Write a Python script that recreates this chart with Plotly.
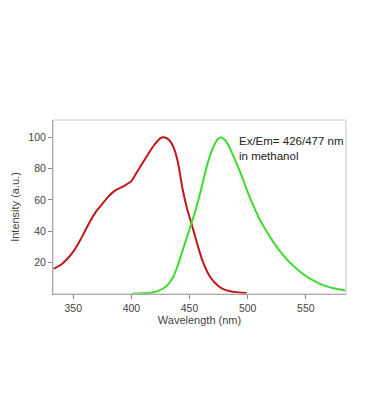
import plotly.graph_objects as go

ex_wl = [333, 340, 345, 350, 355, 360, 365, 370, 375, 380, 385, 390, 395, 400, 405, 410, 415, 420, 425, 428, 432, 436, 440, 444, 448, 452, 456, 461, 468, 475, 480, 485, 490, 495, 499]
ex_int = [16, 19, 22.5, 27, 33, 40, 47, 53, 57.5, 62, 65.5, 67.5, 69.5, 72, 78, 84, 90, 95.5, 99.5, 100, 98.5, 94, 84, 67, 54, 44, 33.5, 21.5, 10.5, 5, 2.8, 1.8, 1.2, 0.8, 0.6]

em_wl = [401, 410, 418, 423, 428, 432, 436, 440, 445, 450, 455, 460, 465, 470, 474, 477, 480, 483, 490, 495, 500, 505, 510, 515, 520, 527, 535, 543, 550, 558, 565, 575, 584]
em_int = [0.3, 0.5, 1.0, 2.0, 3.8, 6.5, 11, 18.5, 30, 41.5, 53, 67, 82, 93, 98.5, 100, 98.5, 95.5, 84, 75, 65, 56, 48, 41.5, 35.5, 28, 21, 15.5, 11.5, 8, 5.5, 3.5, 2.2]

x_ticks = [350, 400, 450, 500, 550]
y_ticks = [20, 40, 60, 80, 100]

fig = go.Figure()
fig.add_trace(go.Scatter(x=ex_wl, y=ex_int, mode="lines",
                         line=dict(color="#c0171c", width=2, shape="spline", smoothing=0.6),
                         showlegend=False))
fig.add_trace(go.Scatter(x=em_wl, y=em_int, mode="lines",
                         line=dict(color="#3cdc2c", width=2, shape="spline", smoothing=0.6),
                         showlegend=False))

fig.add_annotation(x=490.7, y=93, xref="x", yref="y", xanchor="left", yanchor="middle",
                   text="Ex/Em= 426/477 nm<br>in methanol", showarrow=False, align="left",
                   font=dict(family="Liberation Sans, Arial", size=11.5, color="#222"))

fig.add_shape(type="rect", xref="paper", yref="paper", x0=0, y0=0, x1=1, y1=1,
              line=dict(color="#c8c8c8", width=1))

axis_font = dict(family="Liberation Sans, Arial", size=10.5, color="#444")
title_font = dict(family="Liberation Sans, Arial", size=11, color="#444")
fig.update_layout(
    width=370, height=420,
    margin=dict(l=53, r=24, t=120, b=126),
    paper_bgcolor="white", plot_bgcolor="white",
    xaxis=dict(range=[332.6, 584.5], tickvals=x_ticks, ticks="outside", ticklen=4,
               tickcolor="#888", showgrid=False, zeroline=False, showline=True,
               linecolor="#888", linewidth=1, tickfont=axis_font,
               title=dict(text="Wavelength (nm)", font=title_font, standoff=2)),
    yaxis=dict(range=[0, 111], tickvals=y_ticks, ticks="outside", ticklen=4,
               tickcolor="#888", showgrid=False, zeroline=False, showline=True,
               linecolor="#888", linewidth=1, tickfont=axis_font,
               title=dict(text="Intensity (a.u.)", font=title_font, standoff=6)),
)

fig.write_html("out.html")
